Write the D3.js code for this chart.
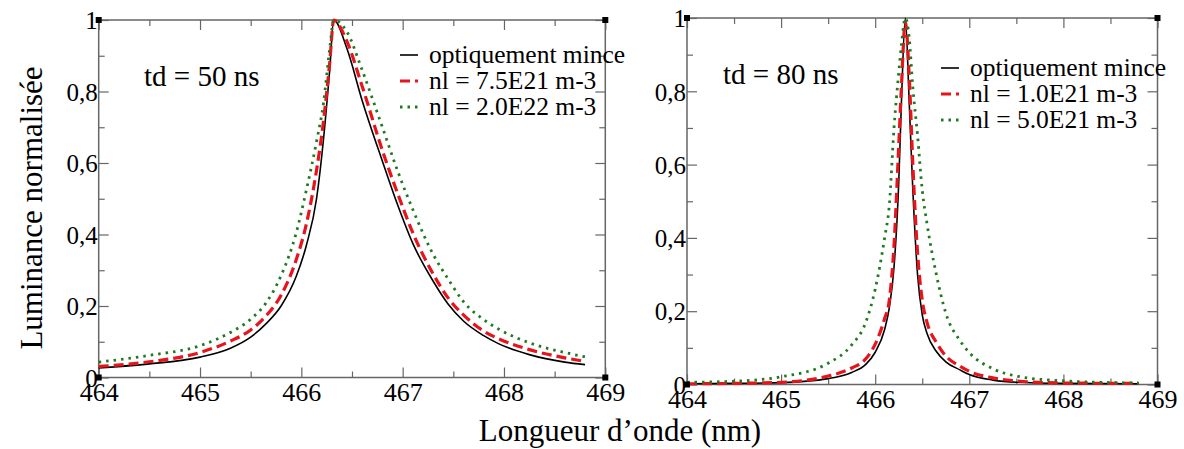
<!DOCTYPE html>
<html><head><meta charset="utf-8">
<script src="https://cdn.jsdelivr.net/npm/d3@7"></script>
<style>
body{margin:0;background:#fff;}
svg text{font-family:"Liberation Serif","Times New Roman",serif !important;fill:#000;}
</style></head>
<body><svg id="chart" width="1184" height="449"></svg>
<script>
// ---------- data ----------
const leftWavelength = [464, 464.5, 465, 465.3, 465.5, 465.65, 465.8, 465.95, 466.05, 466.15, 466.22, 466.28, 466.32, 466.45, 466.6, 466.8, 466.95, 467.1, 467.3, 467.45, 467.6, 467.8, 467.95, 468.25, 468.6, 468.8];
const leftThin   = [0.027, 0.038, 0.057, 0.082, 0.113, 0.15, 0.2, 0.283, 0.37, 0.5, 0.67, 0.86, 1.0, 0.92, 0.775, 0.605, 0.483, 0.375, 0.27, 0.205, 0.158, 0.117, 0.094, 0.064, 0.043, 0.036];
const leftNl75   = [0.031, 0.044, 0.07, 0.102, 0.133, 0.172, 0.23, 0.33, 0.43, 0.58, 0.72, 0.88, 1.0, 0.94, 0.815, 0.635, 0.515, 0.405, 0.29, 0.222, 0.175, 0.13, 0.108, 0.078, 0.055, 0.045];
const leftNl20   = [0.043, 0.062, 0.089, 0.126, 0.163, 0.208, 0.285, 0.405, 0.525, 0.66, 0.77, 0.92, 1.0, 0.967, 0.86, 0.7, 0.578, 0.47, 0.345, 0.275, 0.212, 0.162, 0.135, 0.097, 0.07, 0.058];

const rightWavelength = [464, 464.5, 465, 465.5, 465.75, 465.9, 466.0, 466.1, 466.15, 466.2, 466.25, 466.28, 466.32, 466.36, 466.4, 466.45, 466.5, 466.55, 466.65, 466.75, 466.9, 467.0, 467.25, 467.5, 468, 468.8];
const rightThin  = [0.002, 0.003, 0.005, 0.016, 0.033, 0.055, 0.088, 0.15, 0.21, 0.32, 0.55, 0.78, 1.0, 0.78, 0.53, 0.3, 0.19, 0.14, 0.09, 0.062, 0.04, 0.027, 0.012, 0.006, 0.003, 0.002];
const rightNl10  = [0.002, 0.003, 0.006, 0.023, 0.045, 0.07, 0.11, 0.18, 0.23, 0.38, 0.65, 0.82, 0.99, 0.85, 0.6, 0.36, 0.23, 0.17, 0.115, 0.078, 0.05, 0.036, 0.018, 0.01, 0.004, 0.003];
const rightNl50  = [0.006, 0.009, 0.021, 0.058, 0.108, 0.17, 0.26, 0.4, 0.49, 0.7, 0.85, 0.93, 1.0, 0.95, 0.81, 0.68, 0.53, 0.44, 0.3, 0.195, 0.12, 0.087, 0.043, 0.023, 0.01, 0.004];

const xTickValues = [464, 465, 466, 467, 468, 469];
const xMinorValues = [464.5, 465.5, 466.5, 467.5, 468.5];
const yTickValues = [0, 0.2, 0.4, 0.6, 0.8, 1];
const yTickLabels = ["0", "0,2", "0,4", "0,6", "0,8", "1"];
const yMinorValues = [0.1, 0.3, 0.5, 0.7, 0.9];
const leftLegend = ["optiquement mince", "nl = 7.5E21 m-3", "nl = 2.0E22 m-3"];
const rightLegend = ["optiquement mince", "nl = 1.0E21 m-3", "nl = 5.0E21 m-3"];
const panelTitles = ["td = 50 ns", "td = 80 ns"];
const yTitle = "Luminance normalisée";
const xTitle = "Longueur d\u2019onde (nm)";

// ---------- styles ----------
const FONT = "Liberation Serif, Times New Roman, serif";
const seriesStyles = [
  {color: "#000000", width: 1.6, dash: null},
  {color: "#e8141b", width: 3.2, dash: "10,5"},
  {color: "#1f7a1f", width: 2.8, dash: "2.5,5"}
];

const svg = d3.select("#chart").attr("font-family", FONT);

const panels = [
  {x0: 98.7, x1: 605.3, yTop: 20, yBot: 377.5, wl: leftWavelength, series: [leftThin, leftNl75, leftNl20],
   legend: leftLegend, title: panelTitles[0], titleX: 144, titleY: 86, legX: 400, legY: 63},
  {x0: 687, x1: 1157.5, yTop: 18, yBot: 384.5, wl: rightWavelength, series: [rightThin, rightNl10, rightNl50],
   legend: rightLegend, title: panelTitles[1], titleX: 723, titleY: 84, legX: 941, legY: 76}
];

const frameColor = "#666";

panels.forEach(p => {
  const x = d3.scaleLinear().domain([464, 469]).range([p.x0, p.x1]);
  const y = d3.scaleLinear().domain([0, 1]).range([p.yBot, p.yTop]);
  const g = svg.append("g").attr("font-family", FONT);

  const mk = (axis, vals, size, fmt) => axis.tickValues(vals).tickSize(size).tickFormat(fmt);
  const noLab = () => "";
  g.append("g").attr("transform", `translate(0,${p.yBot})`).call(mk(d3.axisBottom(x), xMinorValues, -6, noLab));
  g.append("g").attr("transform", `translate(0,${p.yTop})`).call(mk(d3.axisTop(x), xMinorValues, -6, noLab));
  g.append("g").attr("transform", `translate(0,${p.yTop})`).call(mk(d3.axisTop(x), xTickValues, -10, noLab));
  g.append("g").attr("transform", `translate(${p.x0},0)`).call(mk(d3.axisLeft(y), yMinorValues, -6, noLab));
  g.append("g").attr("transform", `translate(${p.x1},0)`).call(mk(d3.axisRight(y), yMinorValues, -6, noLab));
  g.append("g").attr("transform", `translate(${p.x1},0)`).call(mk(d3.axisRight(y), yTickValues, -10, noLab));

  const bx = g.append("g").attr("transform", `translate(0,${p.yBot})`)
    .call(mk(d3.axisBottom(x), xTickValues, -10, d3.format("d")));
  bx.attr("font-family", FONT).attr("font-size", 26);
  bx.selectAll("text").attr("y", 0).attr("dy", "23px");

  const ly = g.append("g").attr("transform", `translate(${p.x0},0)`)
    .call(mk(d3.axisLeft(y), yTickValues, -10, (d, i) => yTickLabels[i]));
  ly.attr("font-family", FONT).attr("font-size", 25);
  ly.selectAll("text").attr("x", -1).attr("dy", "0.35em");

  g.selectAll(".domain").remove();
  g.selectAll(".tick line").attr("stroke", frameColor).attr("stroke-width", 1.2);

  g.append("rect").attr("x", p.x0).attr("y", p.yTop).attr("width", p.x1 - p.x0).attr("height", p.yBot - p.yTop)
    .attr("fill", "none").attr("stroke", frameColor).attr("stroke-width", 1.5);

  const line = d3.line().x((d, i) => x(p.wl[i])).y(d => y(d)).curve(d3.curveMonotoneX);
  p.series.forEach((s, k) => {
    const st = seriesStyles[k];
    g.append("path").attr("d", line(s)).attr("fill", "none")
      .attr("stroke", st.color).attr("stroke-width", st.width)
      .attr("stroke-dasharray", st.dash);
  });

  [[p.x0, p.yTop], [p.x1, p.yTop], [p.x0, p.yBot], [p.x1, p.yBot]].forEach(c => {
    g.append("rect").attr("x", c[0] - 3).attr("y", c[1] - 3).attr("width", 6).attr("height", 6).attr("fill", "#000");
  });

  g.append("text").attr("x", p.titleX).attr("y", p.titleY).attr("font-size", 29).attr("font-family", FONT).text(p.title);

  p.legend.forEach((t, k) => {
    const st = seriesStyles[k];
    const yy = p.legY + k * 26;
    g.append("line").attr("x1", p.legX).attr("x2", p.legX + 18).attr("y1", yy - 8).attr("y2", yy - 8)
      .attr("stroke", st.color).attr("stroke-width", st.width).attr("stroke-dasharray", st.dash);
    g.append("text").attr("x", p.legX + 29).attr("y", yy).attr("font-size", 25.5).attr("font-family", FONT).text(t);
  });
});

svg.append("text").attr("transform", "translate(42,208) rotate(-90)").attr("text-anchor", "middle")
  .attr("font-size", 31).attr("font-family", FONT).text(yTitle);
svg.append("text").attr("x", 620).attr("y", 441).attr("text-anchor", "middle").attr("font-size", 31)
  .attr("font-family", FONT).text(xTitle);
</script></body></html>
